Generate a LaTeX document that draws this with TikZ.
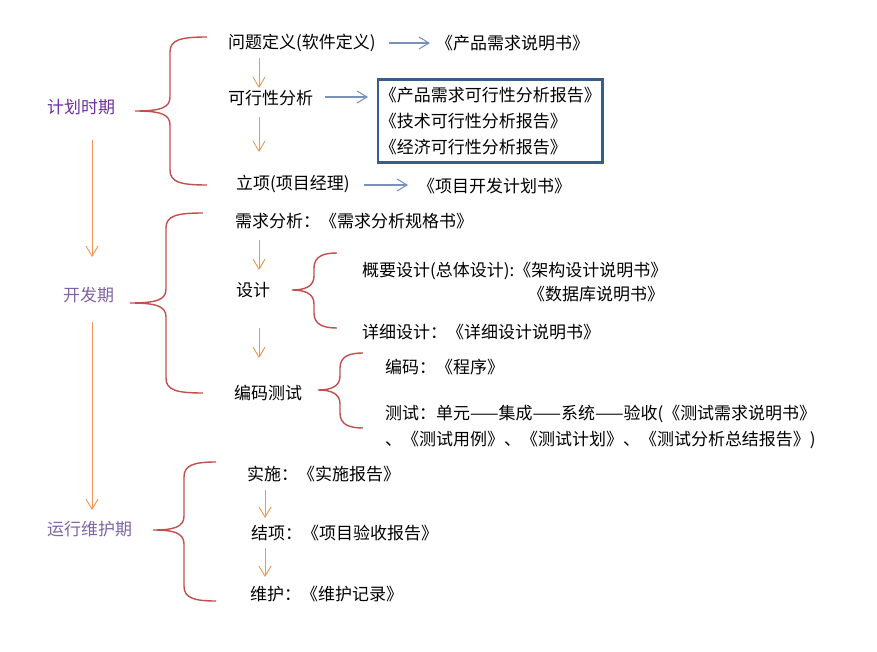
\documentclass[tikz,border=0pt]{standalone}
\usepackage{fontspec}
\setmainfont{Noto Sans CJK SC}
\usepackage{xcolor}
\usetikzlibrary{calc,arrows.meta}
\definecolor{phasepurple}{RGB}{112,48,160}
\definecolor{phaselilac}{RGB}{128,100,162}
\definecolor{steporange}{RGB}{240,150,80}
\definecolor{docblue}{RGB}{120,145,185}
\definecolor{boxblue}{RGB}{56,93,138}
\definecolor{bracered}{RGB}{192,80,77}
% end x, spine x, tip x, top y, tip y, bottom y
\newcommand{\phasebrace}[6]{%
  \draw[brace] (#1,#4) .. controls (#2+10,#4) and (#2,#4+3) .. (#2,#4+15) -- (#2,#5-14)
    .. controls (#2,#5-3) and (#2-10,#5) .. (#3,#5)
    .. controls (#2-10,#5) and (#2,#5+3) .. (#2,#5+14) -- (#2,#6-15)
    .. controls (#2,#6-3) and (#2+10,#6) .. (#1,#6);}

\begin{document}
\begin{tikzpicture}[x=0.03cm,y=-0.03cm,
  every node/.style={inner sep=0pt, anchor=west, font=\fontsize{14.5}{22.5}\selectfont},
  phase/.style={font=\fontsize{14.5}{17}\selectfont},
  docbox/.style={draw=boxblue, line width=2.1pt, inner xsep=1.5pt, inner ysep=6pt, align=left},
  oarr/.style={draw=steporange, line width=0.8pt, -{Straight Barb[length=3mm,width=3.6mm]}},
  barr/.style={draw=docblue, line width=0.9pt, -{Straight Barb[length=3mm,width=3.6mm]}},
  brace/.style={draw=bracered, line width=1.2pt}]
\useasboundingbox (0,0) rectangle (877,652);

% phases
\node[phase,text=phasepurple] (jh) at (47,107) {计划时期};
\node[phase,text=phaselilac] (kf) at (63,295) {开发期};
\node[phase,text=phaselilac] (yx) at (47,529) {运行维护期};
\draw[oarr] ($(jh.west)+(45,33)$) -- ($(kf.west)+(29,-38)$);
\draw[oarr] ($(kf.west)+(29,27)$) -- ($(yx.west)+(45,-19)$);

\phasebrace{207}{170}{135}{37}{111}{185}
\phasebrace{203}{166}{130}{213}{303}{393}
\phasebrace{216}{184}{153}{462}{530}{601}

% planning
\node (wt) at (228,43) {问题定义(软件定义)};
\node (cp) at (436,43) {《产品需求说明书》};
\node (kx) at (228,98) {可行性分析};
\node[docbox] (dk) at (377,121) {《产品需求可行性分析报告》\\《技术可行性分析报告》\\《经济可行性分析报告》};
\node (lx) at (236,184) {立项(项目经理)};
\node (xm) at (418,186) {《项目开发计划书》};
\draw[barr] ($(wt.east)+(13,0)$) -- ($(cp.west)+(-6,0)$);
\draw[barr] ($(kx.east)+(12,-1)$) -- ($(kx.east -| dk.west)+(-9,-1)$);
\draw[barr] ($(lx.east)+(14,1)$) -- ($(xm.west)+(-10,-1)$);
\draw[oarr] ($(wt.west)+(31,15)$) -- ($(kx.west)+(31,-10)$);
\draw[oarr] ($(kx.west)+(31,19)$) -- ($(lx.west)+(23,-32)$);

% development
\node (xq) at (235,221) {需求分析：《需求分析规格书》};
\node (sj) at (236,290) {设计};
\node (bm) at (234,393) {编码测试};
\draw[oarr] ($(xq.west)+(24,19)$) -- ($(sj.west)+(23,-20)$);
\draw[oarr] ($(sj.west)+(23,38)$) -- ($(bm.west)+(25,-35)$);

\phasebrace{337}{314}{292}{253}{290}{328}
\node (gy) at (362,271) {概要设计(总体设计):《架构设计说明书》};
\node (sk) at (528,294) {《数据库说明书》};
\node (xx) at (362,332) {详细设计：《详细设计说明书》};

\phasebrace{363}{340}{318}{353}{390}{428}
\node (bc) at (385,367) {编码：《程序》};
\node[align=left] (cs) at (385,427) {测试：单元——集成——系统——验收(《测试需求说明书》\\、《测试用例》、《测试计划》、《测试分析总结报告》)};

% maintenance
\node (ss) at (247,474) {实施：《实施报告》};
\node (jx) at (251,533) {结项：《项目验收报告》};
\node (wh) at (250,594) {维护：《维护记录》};
\draw[oarr] ($(ss.west)+(18,16)$) -- ($(jx.west)+(14,-15)$);
\draw[oarr] ($(jx.west)+(14,15)$) -- ($(wh.west)+(15,-17)$);
\end{tikzpicture}
\end{document}
